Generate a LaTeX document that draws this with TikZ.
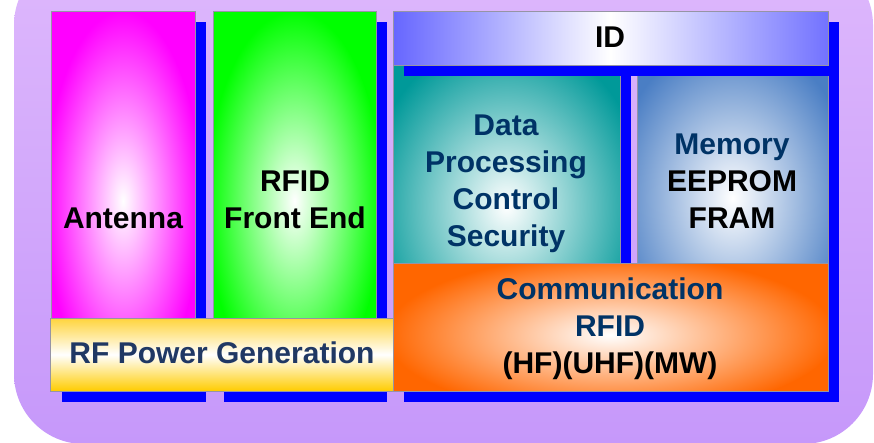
\documentclass[tikz,border=0pt]{standalone}
\usepackage{fontspec}
\setmainfont{Liberation Sans}
\usetikzlibrary{fit}

\definecolor{lavtop}{RGB}{222,184,252}
\definecolor{lavbot}{RGB}{198,152,250}
\definecolor{shadowblue}{RGB}{0,0,255}
\definecolor{edgegrey}{RGB}{150,148,165}
\definecolor{magentaA}{RGB}{255,0,255}
\definecolor{greenA}{RGB}{0,255,0}
\definecolor{tealA}{RGB}{0,153,153}
\definecolor{memblue}{RGB}{74,126,196}
\definecolor{orangeA}{RGB}{255,102,0}
\definecolor{idblue}{RGB}{102,102,255}
\definecolor{goldtop}{RGB}{255,212,60}
\definecolor{goldbot}{RGB}{255,204,0}
\definecolor{navy}{RGB}{0,51,102}
\definecolor{rfnavy}{RGB}{32,56,100}

% a block with its solid blue drop shadow: name, north-west corner, south-east corner, style
\newcommand\shadowedblock[4]{%
  \fill[shadowblue] ([shift={(11,10.5)}]#2) rectangle ([shift={(11,10.5)}]#3);
  \node[box,#4,fit={(#2)(#3)}] (#1) {};}

\begin{document}
\begin{tikzpicture}[x=1pt,y=-1pt,
  box/.style={draw=edgegrey, line width=0.8pt, inner sep=0pt, outer sep=0pt},
  glow/.style n args={4}{fill=#1, path picture={%
      \shade[inner color=white, outer color=#1]
        ([shift={(#2)}]path picture bounding box.center) ellipse ({#3} and {#4});}},
  boxtext/.style={font=\bfseries\fontsize{30}{37}\selectfont, align=center, inner sep=0pt},
]
\useasboundingbox (0,0) rectangle (874,442);

% rounded lavender panel
\shade[top color=lavtop, bottom color=lavbot, rounded corners=70pt] (14,-45) rectangle (873,444);

% left columns
\shadowedblock{antenna}{51,11}{195,391}{glow={magentaA}{0,0}{78}{190}}
\shadowedblock{frontend}{213,11}{376,391}{glow={greenA}{0,0}{88}{190}}

% right group
\shadowedblock{proc}{393,65}{620,263}{glow={tealA}{0,42}{140}{170}}
\shadowedblock{mem}{637,65}{828,263}{glow={memblue}{0,34}{122}{160}}
\shadowedblock{comm}{393,263}{828,391}{glow={orangeA}{0,8}{225}{80}}
\shadowedblock{id}{393,11}{828,65}{left color=idblue, right color=idblue!92!white, middle color=white}

% power generation bar across the two left columns
\node[box, top color=goldtop, bottom color=goldbot, middle color=white, fit={(50,318)(393,391)}] (power) {};

% texts
\node[boxtext] (antenna-text) at (123,218) {Antenna};
\node[boxtext] (frontend-text) at (295,200) {RFID\\Front End};
\node[boxtext, text=rfnavy] (power-text) at (222,353) {RF Power Generation};
\node[boxtext] (id-text) at (610,37) {ID};
\node[boxtext, text=navy] (proc-text) at (506,184) {Data\\Processing\\Control\\Security};
\node[boxtext] (mem-text) at (732,181.5) {\textcolor{navy}{Memory}\\EEPROM\\FRAM};
\node[boxtext] (comm-text) at (610,329) {\textcolor{navy}{Communication}\\\textcolor{navy}{RFID}\\(HF)(UHF)(MW)};
\end{tikzpicture}
\end{document}
